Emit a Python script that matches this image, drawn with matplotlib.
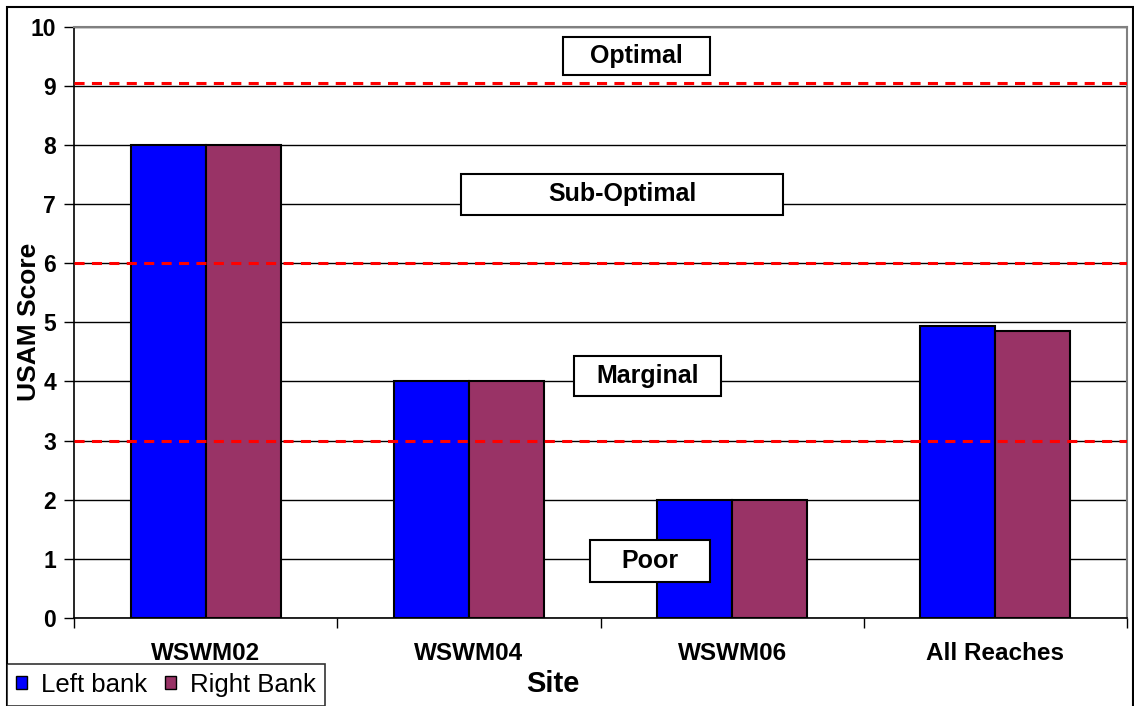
import matplotlib
matplotlib.use("Agg")
import matplotlib.pyplot as plt
from matplotlib.patches import Rectangle, Patch
import numpy as np

plt.rcParams['font.family'] = ['Liberation Sans', 'DejaVu Sans']

sites = ["WSWM02", "WSWM04", "WSWM06", "All Reaches"]
left_bank = [8, 4, 2, 4.93]
right_bank = [8, 4, 2, 4.86]
thresholds = [9.05, 6, 3]

# condition zones: label, x0, x1, y0, y1 (data coords)
zones = [
    ("Optimal", 1.358, 1.916, 9.18, 9.82),
    ("Sub-Optimal", 0.970, 2.193, 6.81, 7.51),
    ("Marginal", 1.399, 1.958, 3.75, 4.43),
    ("Poor", 1.460, 1.916, 0.61, 1.32),
]

fig = plt.figure(figsize=(11.34, 7.06), dpi=100)
ax = fig.add_axes([74 / 1134, 88 / 706, 1053 / 1134, 591.5 / 706])

x = np.arange(len(sites))
w = 0.285
ax.bar(x - w / 2, left_bank, w, color="#0000FF", edgecolor="black", linewidth=1.5, zorder=3, label="Left bank")
ax.bar(x + w / 2, right_bank, w, color="#993366", edgecolor="black", linewidth=1.5, zorder=3, label="Right Bank")

for t in thresholds:
    ax.axhline(t, color="#FF0000", linestyle=(0, (3.3, 2.4)), linewidth=2.2, zorder=4)

for label, x0, x1, y0, y1 in zones:
    ax.add_patch(Rectangle((x0, y0), x1 - x0, y1 - y0, facecolor="white",
                           edgecolor="black", linewidth=1.5, zorder=5))
    ax.text((x0 + x1) / 2, (y0 + y1) / 2, label, ha="center", va="center",
            fontsize=18, fontweight="bold", zorder=6)

ax.set_xlim(-0.5, 3.5)
ax.set_ylim(0, 10)
ax.set_yticks(range(0, 11))
ax.yaxis.grid(True, color="black", linewidth=1.0, zorder=0)
ax.set_axisbelow(True)
ax.tick_params(axis="y", labelsize=16.5, length=7, width=1, direction="out", pad=6)
for lab in ax.get_yticklabels():
    lab.set_fontweight("bold")

ax.set_xticks(x)
ax.set_xticklabels(sites, fontsize=17.5, fontweight="bold")
ax.tick_params(axis="x", length=0, pad=17)
ax.set_xticks(np.arange(-0.5, 4, 1), minor=True)
ax.tick_params(axis="x", which="minor", length=7, width=1)

for s in ["top", "right"]:
    ax.spines[s].set_color("#808080")
    ax.spines[s].set_linewidth(1.5)
ax.spines["left"].set_linewidth(1.2)
ax.spines["bottom"].set_linewidth(1.2)

ax.set_ylabel("USAM Score", fontsize=19, fontweight="bold")
ax.yaxis.set_label_coords(-0.031, 0.5)
fig.text(553 / 1134, 1 - 684 / 706, "Site", ha="center", va="center", fontsize=21, fontweight="bold")

handles = [Patch(facecolor="#0000FF", edgecolor="black"), Patch(facecolor="#993366", edgecolor="black")]
leg = fig.legend(handles, ["Left bank", "Right Bank"], loc="upper left",
                 bbox_to_anchor=(7 / 1134, 1 - 664 / 706), ncol=2, fontsize=18.5,
                 frameon=True, fancybox=False, edgecolor="black",
                 handlelength=0.42, handleheight=0.42, handletextpad=0.55,
                 columnspacing=0.7, borderpad=0.35, borderaxespad=0)
leg.get_frame().set_linewidth(1.2)

fig.add_artist(Rectangle((7 / 1134, -0.05), 1126 / 1134, 1 - 6.5 / 706 + 0.05,
                         transform=fig.transFigure, fill=False, edgecolor="black",
                         linewidth=1.5, clip_on=False))

fig.savefig("out.png", dpi=100)
